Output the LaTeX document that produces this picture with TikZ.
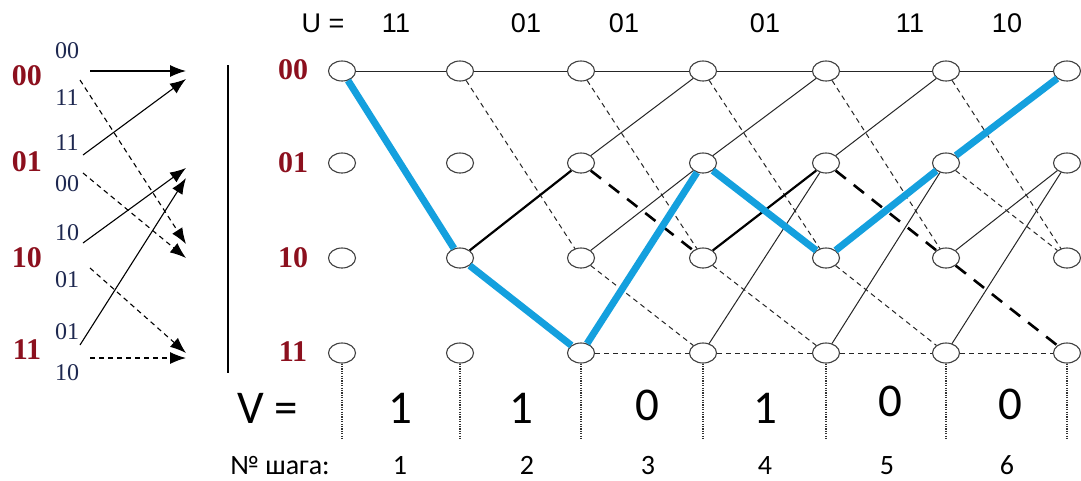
\documentclass[tikz,border=0pt]{standalone}
\usepackage{fontspec}
\setmainfont{Liberation Serif}
\newfontfamily\calibf{Carlito}
\newfontfamily\arialf{Liberation Sans}
\usetikzlibrary{arrows.meta,shapes.geometric}
\definecolor{stred}{RGB}{140,16,30}
\definecolor{lblue}{RGB}{30,40,80}
\definecolor{pathblue}{RGB}{20,160,222}
\tikzset{
  st/.style={draw=black!75, ellipse, minimum width=27pt, minimum height=20pt, inner sep=0pt, line width=1.1pt, fill=white},
  stl/.style={text=stred, font=\bfseries\fontsize{30}{30}\selectfont, inner sep=0pt},
  sm/.style={text=lblue, font=\fontsize{24}{24}\selectfont, inner sep=0pt},
  sol/.style={line width=1pt, draw=black!85},
  dsh/.style={line width=1pt, draw=black!85, dash pattern=on 5pt off 4pt},
  tsol/.style={line width=2.2pt},
  tdsh/.style={line width=2.6pt, dash pattern=on 13pt off 10pt},
  bl/.style={line width=7pt, draw=pathblue},
  arr/.style={-{Latex[length=16pt,width=12pt]}, line width=1.1pt},
  arrd/.style={arr, dash pattern=on 5pt off 4pt},
  dotl/.style={line width=1.3pt, draw=black!80, dash pattern=on 1.2pt off 1.2pt},
  utxt/.style={font=\arialf\fontsize{27}{27}\selectfont, inner sep=0pt},
  vtxt/.style={font=\calibf\fontsize{47}{47}\selectfont, inner sep=0pt},
  ntxt/.style={font=\calibf\fontsize{28}{28}\selectfont, inner sep=0pt, anchor=base},
}
\begin{document}
\begin{tikzpicture}[x=1pt,y=-1pt]
\path[use as bounding box, fill=white] (0,0) rectangle (1081,480);

% trellis nodes
\foreach \c/\x in {0/342,1/460,2/581,3/703,4/826,5/946,6/1067}{
  \foreach \r/\y in {0/71,1/163,2/258,3/353}{
    \node[st] (n\c\r) at (\x,\y) {};
  }
  \coordinate (d\c) at (\x,438);
}

% state labels on trellis
\node[stl] (s0) at (293,70) {00};
\node[stl] (s1) at (293,163) {01};
\node[stl] (s2) at (293,258) {10};
\node[stl] (s3) at (293,352) {11};

% step 1
\draw[sol] (n00) -- (n10);
% step 2
\draw[sol] (n10) -- (n20);
\draw[dsh] (n10) -- (n22);
\draw[tsol] (n12) -- (n21);
% step 3
\draw[sol] (n20) -- (n30);
\draw[dsh] (n20) -- (n32);
\draw[sol] (n21) -- (n30);
\draw[tdsh] (n21) -- (n32);
\draw[sol] (n22) -- (n31);
\draw[dsh] (n22) -- (n33);
\draw[dsh] (n23) -- (n33);
% step 4
\draw[sol] (n30) -- (n40);
\draw[dsh] (n30) -- (n42);
\draw[sol] (n31) -- (n40);
\draw[tsol] (n32) -- (n41);
\draw[dsh] (n32) -- (n43);
\draw[sol] (n33) -- (n41);
\draw[dsh] (n33) -- (n43);
% step 5
\draw[sol] (n40) -- (n50);
\draw[dsh] (n40) -- (n52);
\draw[sol] (n41) -- (n50);
\draw[tdsh] (n41) -- (n52);
\draw[dsh] (n42) -- (n53);
\draw[sol] (n43) -- (n51);
\draw[dsh] (n43) -- (n53);
% step 6
\draw[sol] (n50) -- (n60);
\draw[dsh] (n50) -- (n62);
\draw[dsh] (n51) -- (n62);
\draw[sol] (n52) -- (n61);
\draw[tdsh] (n52) -- (n63);
\draw[sol] (n53) -- (n61);
\draw[dsh] (n53) -- (n63);

% blue path
\draw[bl] (n00) -- (n12);
\draw[bl] (n12) -- (n23);
\draw[bl] (n23) -- (n31);
\draw[bl] (n31) -- (n42);
\draw[bl] (n42) -- (n51);
\draw[bl] (n51) -- (n60);

% bottom dotted lines
\foreach \c in {0,...,6}{
  \draw[dotl] (n\c3.south) -- (d\c);
}

% top U labels
\node[utxt] (u0) at (323,23) {U =};
\node[utxt] (u1) at (396,23) {11};
\node[utxt] (u2) at (526,23) {01};
\node[utxt] (u3) at (624,23) {01};
\node[utxt] (u4) at (765,23) {01};
\node[utxt] (u5) at (910,23) {11};
\node[utxt] (u6) at (1007,23) {10};

% V labels
\node[vtxt] (v0) at (268,408) {V =};
\node[vtxt] (v1) at (400,408) {1};
\node[vtxt] (v2) at (521,408) {1};
\node[vtxt] (v3) at (647,405) {0};
\node[vtxt] (v4) at (765,408) {1};
\node[vtxt] (v5) at (890,401) {0};
\node[vtxt] (v6) at (1010,404) {0};

% step numbers
\node[ntxt] (k0) at (280,474) {№ шага:};
\node[ntxt] (k1) at (400,474) {1};
\node[ntxt] (k2) at (527,474) {2};
\node[ntxt] (k3) at (648,474) {3};
\node[ntxt] (k4) at (765,474) {4};
\node[ntxt] (k5) at (887,474) {5};
\node[ntxt] (k6) at (1007,474) {6};

% left diagram
\node[stl] (b0) at (27,76) {00};
\node[stl] (b1) at (27,162) {01};
\node[stl] (b2) at (27,258) {10};
\node[stl] (b3) at (27,350) {11};

\node[sm] (m0) at (67,51) {00};
\node[sm] (m1) at (67,98) {11};
\node[sm] (m2) at (67,143) {11};
\node[sm] (m3) at (67,184) {00};
\node[sm] (m4) at (67,233) {10};
\node[sm] (m5) at (67,280) {01};
\node[sm] (m6) at (67,332) {01};
\node[sm] (m7) at (67,373) {10};

\coordinate (a0s) at (90,71);   \coordinate (a0e) at (186,71);
\coordinate (a1s) at (80,80);   \coordinate (a1e) at (186,244);
\coordinate (a2s) at (83,155);  \coordinate (a2e) at (186,79);
\coordinate (a3s) at (83,173);  \coordinate (a3e) at (186,258);
\coordinate (a4s) at (83,243);  \coordinate (a4e) at (186,168);
\coordinate (a5s) at (90,268);  \coordinate (a5e) at (186,353);
\coordinate (a6s) at (80,345);  \coordinate (a6e) at (186,178);
\coordinate (a7s) at (90,358);  \coordinate (a7e) at (186,358);

\draw[arr] (a0s) -- (a0e);
\draw[arrd] (a1s) -- (a1e);
\draw[arr] (a2s) -- (a2e);
\draw[arrd] (a3s) -- (a3e);
\draw[arr] (a4s) -- (a4e);
\draw[arrd] (a5s) -- (a5e);
\draw[arr] (a6s) -- (a6e);
\draw[arrd] (a7s) -- (a7e);

\coordinate (vl0) at (228,65);
\coordinate (vl1) at (228,373);
\draw[line width=1.4pt] (vl0) -- (vl1);
\end{tikzpicture}
\end{document}
